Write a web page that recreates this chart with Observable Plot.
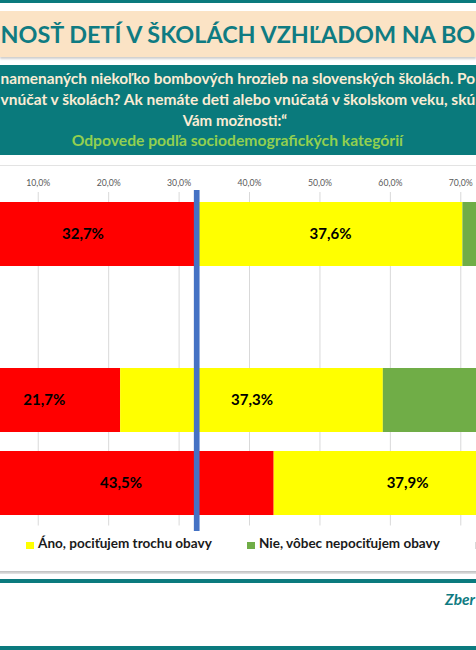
<!DOCTYPE html>
<html><head><meta charset="utf-8">
<script src="https://cdn.jsdelivr.net/npm/d3@7"></script>
<script src="https://cdn.jsdelivr.net/npm/@observablehq/plot@0.6"></script>
<style>
html,body{margin:0;padding:0;}
body{width:476px;height:650px;overflow:hidden;position:relative;background:#fff;font-family:Lato,"Open Sans",sans-serif;}
.abs{position:absolute;}
.line{position:absolute;white-space:nowrap;line-height:1;}
#chart{position:absolute;left:0;top:165px;width:476px;}
#chart svg{max-width:none;}
</style></head><body>
<div class="abs" style="left:0;top:0;width:476px;height:3px;background:#0b7a7e"></div>
<div class="abs" style="left:0;top:11px;width:476px;height:46px;background:#fbe3c5;box-shadow:0 2px 2px #cfcfcf"></div>
<div id="title" class="line" style="color:#0f7b82;font-weight:700"><span class="fp">NOSŤ DETÍ V ŠKOLÁCH VZHĽADOM NA BO</span></div>
<div class="abs" style="left:0;top:65px;width:476px;height:90px;background:#0a7a7c"></div>
<div id="l1" class="line" style="color:#fbecd4;font-weight:700"><span class="fp">namenaných niekoľko bombových hrozieb na slovenských školách. Po</span></div>
<div id="l2" class="line" style="color:#fbecd4;font-weight:700"><span class="fp">vnúčat v školách? Ak nemáte deti alebo vnúčatá v školskom veku, skú</span></div>
<div id="l3" class="line" style="color:#fbecd4;font-weight:700"><span class="fp">Vám možnosti:“</span></div>
<div id="l4" class="line" style="color:#92d050;font-weight:700"><span class="fp">Odpovede podľa sociodemografických kategórií</span></div>
<div class="abs" style="left:0;top:165px;width:476px;height:1px;background:#e3e3e3"></div>
<div id="chart"></div>
<div id="legend"></div>
<div class="abs" style="left:0;top:571px;width:476px;height:3px;background:linear-gradient(#bdbdbd,#e6e6e6)"></div>
<div class="abs" style="left:0;top:579px;width:476px;height:4px;background:#0b7a7e"></div>
<div id="zber" class="line" style="color:#0f7b82;font-weight:700;font-style:italic"><span class="fp">Zber</span></div>
<div class="abs" style="left:0;top:646px;width:476px;height:4px;background:#0b7a7e"></div>
<script>
// ---- data ----
const kategorie = ["Spolu", " ", "Muži", "Ženy"];
const odpovede = ["Áno, pociťujem veľké obavy", "Áno, pociťujem trochu obavy", "Nie, vôbec nepociťujem obavy", "Neviem"];
const farby = ["#ff0000", "#ffff00", "#70ad47", "#d9d9d9"];
const velkeObavy = [32.7, null, 21.7, 43.5];
const trochuObavy = [37.6, null, 37.3, 37.9];
const ziadneObavy = [24.8, null, 35.1, 14.6];
const neviem = [4.9, null, 5.9, 4.0];
const priemer = 32.5;
const tickHodnoty = [10, 20, 30, 40, 50, 60, 70];
// visible window of the axis (the picture is a crop of a wider chart)
const xMin = 4.64, xMax = 72.23;

const serie = [velkeObavy, trochuObavy, ziadneObavy, neviem];
const rows = [];
kategorie.forEach((k, i) => {
  let cum = 0;
  serie.forEach((arr, j) => {
    if (arr[i] == null) return;
    rows.push({kat: k, odp: odpovede[j], hodnota: arr[i], stred: cum + arr[i] / 2});
    cum += arr[i];
  });
});
const pct = d => d.toFixed(1).replace(".", ",") + "%";

const plot = Plot.plot({
  width: 476, height: 370,
  marginTop: 27, marginBottom: 9.5, marginLeft: 0, marginRight: 0,
  style: {fontFamily: "Lato, sans-serif", background: "transparent"},
  x: {domain: [xMin, xMax], axis: null},
  y: {domain: kategorie, axis: null, paddingInner: 0.23, paddingOuter: 0.115},
  color: {domain: odpovede, range: farby},
  marks: [
    Plot.gridX(tickHodnoty, {stroke: "#d9d9d9", strokeOpacity: 1, strokeWidth: 1}),
    Plot.axisX(tickHodnoty, {anchor: "top", tickSize: 0, tickPadding: 7, tickFormat: pct, fontSize: 8.7, fill: "#595959", label: null}),
    Plot.barX(rows, Plot.stackX({order: odpovede, x: "hodnota", y: "kat", fill: "odp", clip: true})),
    Plot.text(rows.filter(d => d.stred > xMin && d.stred < xMax), {x: "stred", y: "kat", text: d => pct(d.hodnota), fontSize: 15, fontWeight: "bold", fill: "black"}),
    Plot.ruleX([priemer], {stroke: "#4472c4", strokeWidth: 5.7, insetTop: -2, insetBottom: -5.5})
  ]
});
document.getElementById("chart").appendChild(plot);

function fitLine(el, {left, center, width, baseline}) {
  el.style.fontSize = "100px";
  const part = el.querySelector(".fp") || el;
  const w = part.getBoundingClientRect().width;
  const fs = 100 * width / w;
  el.style.fontSize = fs + "px";
  el.style.top = (baseline - 0.887 * fs) + "px";
  el.style.left = (center != null ? center - width / 2 : left) + "px";
}

// ---- legend ----
const legendLeft = [null, 26, 247, 468];
const legendWidth = [null, 174, 181, null];
const legend = document.getElementById("legend");
odpovede.forEach((o, j) => {
  if (legendLeft[j] == null) return;
  const sq = document.createElement("div");
  sq.className = "abs";
  Object.assign(sq.style, {left: Math.max(legendLeft[j], 0) + "px", top: "541.5px", width: "7.5px", height: "7.5px", background: farby[j]});
  if (j === 3) sq.style.left = "475px";
  legend.appendChild(sq);
  if (legendWidth[j] != null) {
    const t = document.createElement("div");
    t.className = "line";
    t.style.fontWeight = "700"; t.style.color = "#1a1a1a";
    t.innerHTML = '<span class="fp"></span>';
    t.querySelector(".fp").textContent = o;
    legend.appendChild(t);
    fitLine(t, {left: legendLeft[j] + 12, width: legendWidth[j], baseline: 549});
  }
});

fitLine(document.getElementById("title"), {left: 0.5, width: 475, baseline: 43.3});
fitLine(document.getElementById("l1"), {left: 0.5, width: 475, baseline: 85});
fitLine(document.getElementById("l2"), {left: 0.5, width: 475, baseline: 105.8});
fitLine(document.getElementById("l3"), {center: 235, width: 104.7, baseline: 126.4});
fitLine(document.getElementById("l4"), {center: 237.5, width: 331.7, baseline: 146.7});
fitLine(document.getElementById("zber"), {left: 445, width: 30, baseline: 606});
</script>
</body></html>
